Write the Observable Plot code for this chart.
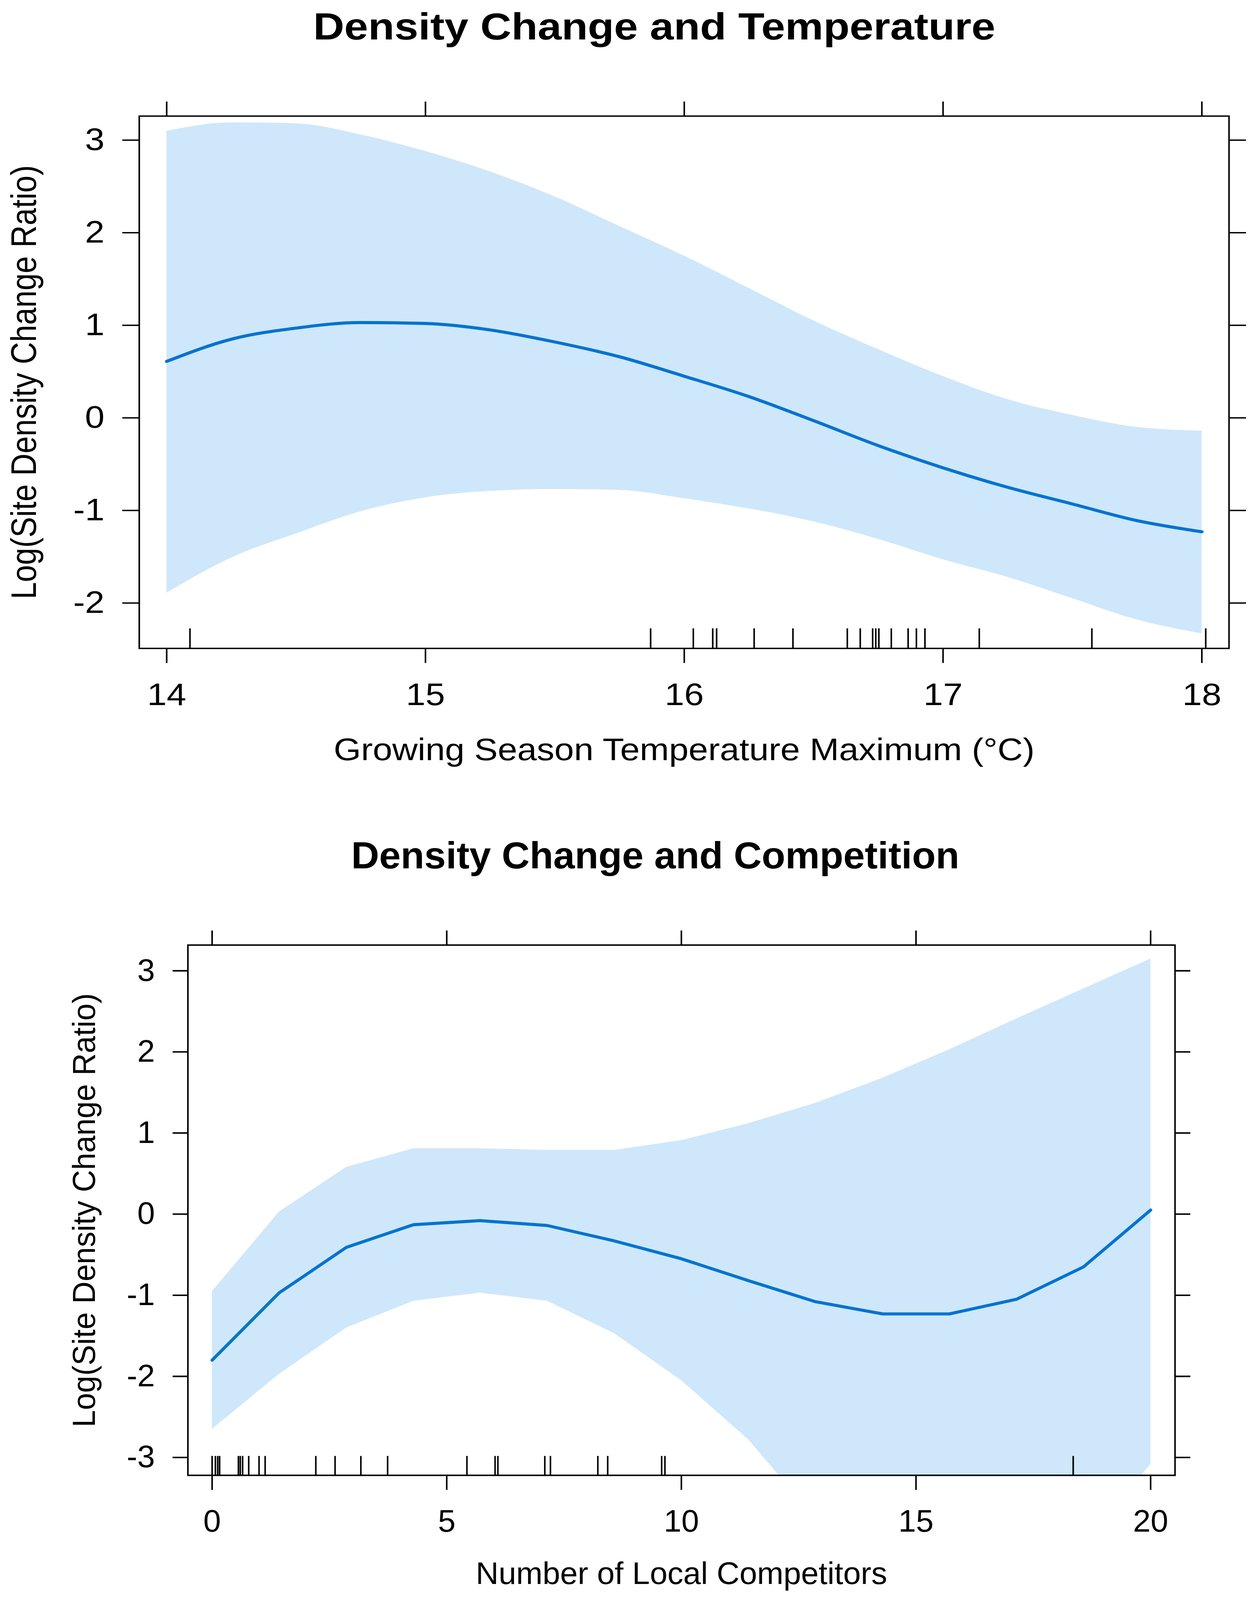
<!DOCTYPE html>
<html><head><meta charset="utf-8">
<script src="https://cdn.jsdelivr.net/npm/d3@7"></script>
<script src="https://cdn.jsdelivr.net/npm/@observablehq/plot@0.6"></script>
<style>
html,body{margin:0;padding:0;background:#fff;overflow:hidden;}
#root{position:relative;width:3213px;height:4665px;overflow:hidden;font-family:"Liberation Sans",Arial,Helvetica,sans-serif;color:#000;background:#fff;transform-origin:0 0;}
.title{position:absolute;left:0;text-align:center;font-weight:bold;font-size:110px;line-height:110px;white-space:nowrap;}
</style></head>
<body><div id="root">
<div class="title" id="t1" style="top:22px;width:3350px"></div>
<div id="p1" style="position:absolute;left:0;top:200px"></div>
<div id="b2" style="position:absolute;left:0;top:2380px;width:3570px;height:2285px;transform:scaleX(0.9);transform-origin:0 0">
  <div class="title" id="t2" style="top:59px;width:3728px"></div>
  <div id="p2" style="position:absolute;left:0;top:240px"></div>
</div>
</div>
<script>
// ---- Panel 1: temperature ----
const title1 = "Density Change and Temperature";
const xLabel1 = "Growing Season Temperature Maximum (°C)";
const yLabel = "Log(Site Density Change Ratio)";
const tempX = [14, 14.25, 14.5, 14.75, 15, 15.25, 15.5, 15.75, 16, 16.25, 16.5, 16.75, 17, 17.25, 17.5, 17.75, 18];
const tempFit = [0.61, 0.85, 0.97, 1.03, 1.02, 0.95, 0.82, 0.66, 0.45, 0.23, -0.03, -0.30, -0.54, -0.75, -0.93, -1.11, -1.23];
const tempUpper = [3.10, 3.19, 3.18, 3.06, 2.88, 2.66, 2.39, 2.07, 1.75, 1.40, 1.05, 0.74, 0.45, 0.20, 0.03, -0.10, -0.14];
const tempLower = [-1.89, -1.51, -1.25, -1.01, -0.86, -0.79, -0.77, -0.78, -0.87, -0.98, -1.12, -1.31, -1.53, -1.72, -1.95, -2.18, -2.33];
const tempRug = [14.09, 15.87, 16.035, 16.11, 16.125, 16.27, 16.42, 16.63, 16.68, 16.728, 16.74, 16.752, 16.80, 16.865, 16.897, 16.93, 17.14, 17.575, 18.015];
const tempXTicks = [14, 15, 16, 17, 18];
const tempYTicks = [-2, -1, 0, 1, 2, 3];

// ---- Panel 2: competition ----
const title2 = "Density Change and Competition";
const xLabel2 = "Number of Local Competitors";
const compX = [0, 1.43, 2.86, 4.29, 5.71, 7.14, 8.57, 10, 11.43, 12.86, 14.29, 15.71, 17.14, 18.57, 20];
const compFit = [-1.80, -0.97, -0.41, -0.13, -0.08, -0.14, -0.33, -0.55, -0.82, -1.08, -1.23, -1.23, -1.05, -0.65, 0.05];
const compUpper = [-0.95, 0.03, 0.58, 0.81, 0.81, 0.79, 0.79, 0.91, 1.12, 1.37, 1.68, 2.03, 2.41, 2.78, 3.15];
const compLower = [-2.65, -1.97, -1.40, -1.07, -0.97, -1.07, -1.47, -2.05, -2.78, -3.75, -4.15, -4.45, -4.50, -4.08, -3.08];
const compRug = [0, 0.07, 0.12, 0.16, 0.56, 0.60, 0.65, 0.78, 1.0, 1.13, 2.21, 2.62, 3.17, 3.74, 5.43, 6.03, 6.09, 7.09, 7.21, 8.22, 8.43, 9.58, 9.65, 18.35];
const compXTicks = [0, 5, 10, 15, 20];
const compYTicks = [-3, -2, -1, 0, 1, 2, 3];

const FONT = '"Liberation Sans", Arial, Helvetica, sans-serif';
const BAND = "#CFE7FA";
const LINE = "#0073D1";

function panel(o) {
  const data = o.xs.map((x, i) => ({x, fit: o.fit[i], lo: o.lo[i], hi: o.hi[i]}));
  const frameH = o.height - o.mT - o.mB;
  return Plot.plot({
    width: o.width, height: o.height,
    marginLeft: o.mL, marginRight: o.mR, marginTop: o.mT, marginBottom: o.mB,
    style: {fontFamily: FONT, fontSize: "90px", background: "white", color: "black", overflow: "visible"},
    x: {domain: o.xDomain},
    y: {domain: o.yDomain},
    marks: [
      Plot.areaY(data, {x: "x", y1: "lo", y2: "hi", fill: BAND, curve: o.curve, clip: true}),
      Plot.lineY(data, {x: "x", y: "fit", stroke: LINE, strokeWidth: 9, curve: o.curve, clip: true}),
      Plot.tickX(o.rug, {x: d => d, stroke: "black", strokeWidth: o.sw, insetTop: frameH - o.rugLen}),
      Plot.frame({stroke: "black", strokeWidth: o.sw}),
      Plot.axisX({anchor: "bottom", ticks: o.xTicks, tickSize: 43, tickPadding: o.xPad, tickFormat: d => String(d),
        strokeWidth: o.sw, fontSize: 90, label: o.xLabel, labelAnchor: "center", labelOffset: o.xLabOff, labelArrow: "none"}),
      Plot.axisX({anchor: "top", ticks: o.xTicks, tickSize: 43, tickFormat: () => "", strokeWidth: o.sw, label: null}),
      Plot.axisY({anchor: "left", ticks: o.yTicks, tickSize: 43, tickPadding: o.yPad, tickFormat: d => String(d),
        strokeWidth: o.sw, fontSize: 90, label: o.yLabel, labelAnchor: "center", labelOffset: o.yLabOff, labelArrow: "none"}),
      Plot.axisY({anchor: "right", ticks: o.yTicks, tickSize: 43, tickFormat: () => "", strokeWidth: o.sw, label: null})
    ]
  });
}

document.getElementById("t1").textContent = title1;
document.getElementById("t2").textContent = title2;

document.getElementById("p1").append(panel({
  xs: tempX, fit: tempFit, lo: tempLower, hi: tempUpper, rug: tempRug,
  xDomain: [13.894, 18.105], yDomain: [-2.49, 3.26],
  xTicks: tempXTicks, yTicks: tempYTicks, xLabel: xLabel1, yLabel: yLabel,
  width: 3213, height: 2070, mL: 356, mR: 67, mT: 138, mB: 380,
  curve: "monotone-x", rugLen: 58, sw: 4, xPad: 58, yPad: 46, xLabOff: 326, yLabOff: 328
}));

document.getElementById("p2").append(panel({
  xs: compX, fit: compFit, lo: compLower, hi: compUpper, rug: compRug,
  xDomain: [-0.516, 20.52], yDomain: [-3.22, 3.317],
  xTicks: compXTicks, yTicks: compYTicks, xLabel: xLabel2, yLabel: yLabel,
  width: 3570, height: 2041, mL: 534, mR: 228, mT: 135, mB: 360,
  curve: "linear", rugLen: 56, sw: 4.4, xPad: 57, yPad: 51, xLabOff: 317, yLabOff: 328
}));

// The visible window may be shorter than the 4665px design: fit the layout to it vertically.
const k = Math.min(1, window.innerHeight / 4665);
if (k < 1) document.getElementById("root").style.transform = `scale(1, ${k})`;
</script>
</body></html>
